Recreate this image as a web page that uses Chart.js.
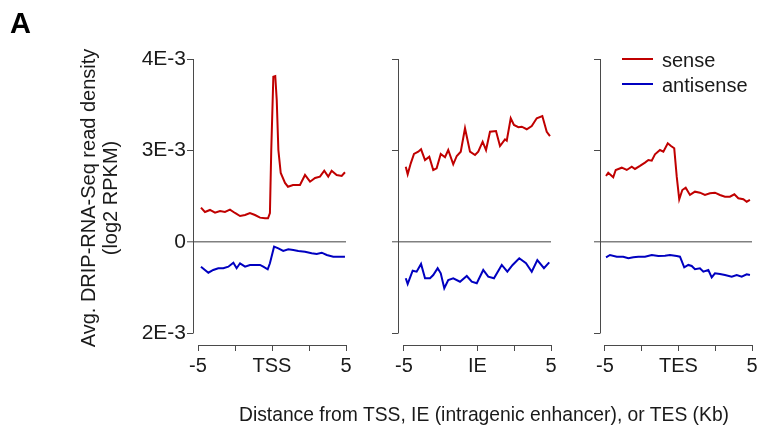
<!DOCTYPE html>
<html><head><meta charset="utf-8">
<script src="https://cdn.jsdelivr.net/npm/chart.js@4.4.1/dist/chart.umd.min.js"></script>
<style>
html,body{margin:0;padding:0;background:#fff;}
#wrap{position:relative;width:761px;height:431px;overflow:hidden;font-family:"Liberation Sans",Arial,sans-serif;color:#1a1a1a;}
canvas{position:absolute;left:0;top:0;}
.t{position:absolute;white-space:nowrap;}
.sw{position:absolute;height:2px;}
</style></head>
<body>
<div id="wrap">
<canvas id="c1" width="761" height="431"></canvas>
<canvas id="c2" width="761" height="431"></canvas>
<canvas id="c3" width="761" height="431"></canvas>
<div class="t" style="left:10px;top:8.7px;font-size:29px;line-height:29px;font-weight:bold;color:#000;">A</div>
<div class="t" style="left:-60.6px;top:176px;width:320px;height:44px;font-size:20px;line-height:22px;text-align:center;transform:rotate(-90deg);">Avg. DRIP-RNA-Seq read density<br>(log2 RPKM)</div>
<div class="t" style="left:184px;top:405px;width:600px;font-size:19.3px;line-height:19.5px;text-align:center;">Distance from TSS, IE (intragenic enhancer), or TES (Kb)</div>
<div class="sw" style="left:622px;top:58px;width:31px;background:#c00000;"></div>
<div class="t" style="left:662px;top:49.6px;font-size:20px;line-height:20px;">sense</div>
<div class="sw" style="left:622px;top:83px;width:31px;background:#0000c0;"></div>
<div class="t" style="left:662px;top:74.6px;font-size:20px;line-height:20px;">antisense</div>
</div>
<script>
// ---- data (x in Kb, y in axis units: tick positions below) ----
const yTickValues = [-1, 0, 1, 2];
const yTickLabels = ["2E-3", "0", "3E-3", "4E-3"];
const xTickValues = [-5, -2.5, 0, 2.5, 5];
const tssTickLabels = ["-5", "", "TSS", "", "5"];
const ieTickLabels = ["-5", "", "IE", "", "5"];
const tesTickLabels = ["-5", "", "TES", "", "5"];

const tssSenseX = [-4.80,-4.53,-4.19,-3.85,-3.51,-3.18,-2.84,-2.50,-2.16,-1.82,-1.49,-1.15,-0.81,-0.47,-0.27,-0.14,-0.05,0.09,0.22,0.32,0.43,0.59,0.88,1.08,1.42,1.89,2.23,2.57,2.91,3.24,3.53,3.80,4.03,4.37,4.71,4.93];
const tssSenseY = [0.375,0.328,0.350,0.320,0.339,0.328,0.353,0.317,0.284,0.295,0.317,0.295,0.266,0.259,0.259,0.317,1.005,1.807,1.814,1.552,1.005,0.754,0.645,0.604,0.623,0.623,0.732,0.659,0.699,0.714,0.779,0.714,0.779,0.732,0.721,0.762];
const tssAntiX = [-4.80,-4.30,-3.97,-3.63,-3.29,-2.95,-2.61,-2.39,-2.16,-1.82,-1.49,-1.15,-0.81,-0.59,-0.29,-0.14,0.14,0.43,0.76,1.10,1.44,1.78,2.23,2.68,3.02,3.36,3.70,4.14,4.59,4.93];
const tssAntiY = [-0.270,-0.336,-0.306,-0.287,-0.287,-0.270,-0.226,-0.287,-0.233,-0.270,-0.251,-0.251,-0.251,-0.270,-0.298,-0.233,-0.051,-0.069,-0.098,-0.080,-0.087,-0.098,-0.106,-0.123,-0.131,-0.117,-0.142,-0.161,-0.161,-0.161];

const ieSenseX = [-4.88,-4.75,-4.54,-4.32,-4.03,-3.84,-3.57,-3.28,-3.01,-2.78,-2.50,-2.21,-1.99,-1.65,-1.41,-1.14,-0.85,-0.51,-0.17,0.05,0.35,0.58,0.85,1.26,1.53,1.87,1.99,2.26,2.48,2.78,3.01,3.35,3.69,4.03,4.41,4.71,4.93];
const ieSenseY = [0.823,0.740,0.860,0.962,0.987,1.013,0.896,0.932,0.787,0.805,0.962,0.926,1.005,0.849,0.940,0.987,1.243,0.987,0.951,0.987,1.096,1.005,1.205,1.213,1.049,1.122,1.107,1.352,1.279,1.254,1.260,1.232,1.268,1.352,1.377,1.205,1.158];
const ieAntiX = [-4.88,-4.75,-4.41,-4.14,-3.84,-3.57,-3.23,-3.01,-2.71,-2.50,-2.26,-1.99,-1.65,-1.19,-0.73,-0.39,-0.05,0.39,0.73,1.12,1.65,2.03,2.39,2.84,3.30,3.69,4.07,4.52,4.88];
const ieAntiY = [-0.397,-0.459,-0.314,-0.325,-0.240,-0.397,-0.397,-0.361,-0.287,-0.342,-0.506,-0.415,-0.397,-0.434,-0.372,-0.434,-0.451,-0.306,-0.379,-0.397,-0.251,-0.325,-0.251,-0.178,-0.233,-0.325,-0.197,-0.287,-0.222];

const tesSenseX = [-4.93,-4.78,-4.44,-4.27,-3.86,-3.52,-3.18,-2.96,-2.62,-2.28,-2.05,-1.82,-1.60,-1.26,-1.03,-0.73,-0.51,-0.29,-0.12,0.05,0.26,0.49,0.78,1.12,1.46,1.80,2.14,2.48,2.82,3.16,3.50,3.80,4.07,4.41,4.64,4.86];
const tesSenseY = [0.721,0.757,0.707,0.787,0.812,0.787,0.823,0.798,0.831,0.867,0.896,0.889,0.958,1.005,0.987,1.079,1.049,1.024,0.714,0.467,0.568,0.593,0.514,0.550,0.539,0.514,0.532,0.539,0.514,0.495,0.495,0.521,0.478,0.467,0.440,0.459];
const tesAntiX = [-4.93,-4.66,-4.20,-3.76,-3.41,-3.07,-2.73,-2.28,-1.82,-1.37,-0.92,-0.58,-0.12,0.10,0.39,0.67,0.90,1.12,1.46,1.69,2.03,2.26,2.48,2.82,3.16,3.62,3.96,4.30,4.64,4.86];
const tesAntiY = [-0.167,-0.142,-0.161,-0.161,-0.178,-0.167,-0.161,-0.161,-0.142,-0.153,-0.150,-0.142,-0.153,-0.161,-0.277,-0.251,-0.262,-0.298,-0.287,-0.325,-0.306,-0.386,-0.342,-0.350,-0.361,-0.379,-0.361,-0.379,-0.353,-0.361];

// ---- rendering ----
Chart.defaults.font.family = '"Liberation Sans", Arial, sans-serif';
Chart.defaults.color = '#1a1a1a';

const pts = (xs, ys) => xs.map((x, i) => ({x, y: ys[i]}));

const axisLines = {
  id: 'axisLines',
  afterDraw(chart) {
    const {ctx, chartArea, scales: {x, y}} = chart;
    ctx.save();
    ctx.strokeStyle = '#4a4a4a';
    ctx.lineWidth = 1;
    const lx = Math.round(chartArea.left) + 0.5;
    ctx.beginPath();
    ctx.moveTo(lx, y.getPixelForValue(yTickValues[yTickValues.length - 1]));
    ctx.lineTo(lx, y.getPixelForValue(yTickValues[0]));
    ctx.stroke();
    const by = Math.round(chartArea.bottom) + 0.5;
    ctx.beginPath();
    ctx.moveTo(x.getPixelForValue(xTickValues[0]), by);
    ctx.lineTo(x.getPixelForValue(xTickValues[xTickValues.length - 1]), by);
    ctx.stroke();
    ctx.restore();
  }
};

function makePanel(id, sx, sy, ax, ay, xLabels, opt) {
  new Chart(document.getElementById(id), {
    type: 'line',
    data: {
      datasets: [
        {label: 'sense', data: pts(sx, sy), borderColor: '#c00000', borderWidth: 2, pointRadius: 0, tension: 0},
        {label: 'antisense', data: pts(ax, ay), borderColor: '#0000c0', borderWidth: 2, pointRadius: 0, tension: 0}
      ]
    },
    options: {
      responsive: false,
      devicePixelRatio: 1,
      animation: false,
      layout: {padding: {left: opt.left - opt.yWidth, right: 761 - opt.right, top: 59, bottom: 431 - 345 - 40}},
      plugins: {legend: {display: false}, tooltip: {enabled: false}},
      scales: {
        x: {
          type: 'linear', min: opt.xMin, max: 5,
          afterBuildTicks: s => { s.ticks = xTickValues.map(v => ({value: v})); },
          afterFit: s => { s.height = 40; },
          border: {display: false},
          grid: {drawOnChartArea: false, drawTicks: true, tickLength: 6, color: '#4a4a4a', lineWidth: 1},
          ticks: {padding: 3, autoSkip: false, maxRotation: 0, font: {size: 20}, color: '#1a1a1a',
                  callback: (v, i) => xLabels[i]}
        },
        y: {
          type: 'linear', min: -1.126, max: 2,
          afterBuildTicks: s => { s.ticks = yTickValues.map(v => ({value: v})); },
          afterFit: s => { s.width = opt.yWidth; },
          border: {display: false},
          grid: {
            drawOnChartArea: true, drawTicks: true, tickLength: 6,
            color: c => (c.tick && c.tick.value === 0) ? '#808080' : 'rgba(0,0,0,0)',
            lineWidth: c => (c.tick && c.tick.value === 0) ? 1.6 : 1,
            tickColor: '#4a4a4a', tickWidth: 1
          },
          ticks: {padding: 1, font: {size: 21}, color: '#1a1a1a',
                  callback: (v, i) => opt.showY ? yTickLabels[i] : ''}
        }
      }
    },
    plugins: [axisLines]
  });
}

makePanel('c1', tssSenseX, tssSenseY, tssAntiX, tssAntiY, tssTickLabels, {left: 193, right: 346, xMin: -5.338, yWidth: 60, showY: true});
makePanel('c2', ieSenseX, ieSenseY, ieAntiX, ieAntiY, ieTickLabels, {left: 398, right: 551, xMin: -5.408, yWidth: 10, showY: false});
makePanel('c3', tesSenseX, tesSenseY, tesAntiX, tesAntiY, tesTickLabels, {left: 600, right: 752, xMin: -5.34, yWidth: 10, showY: false});
</script>
</body></html>
